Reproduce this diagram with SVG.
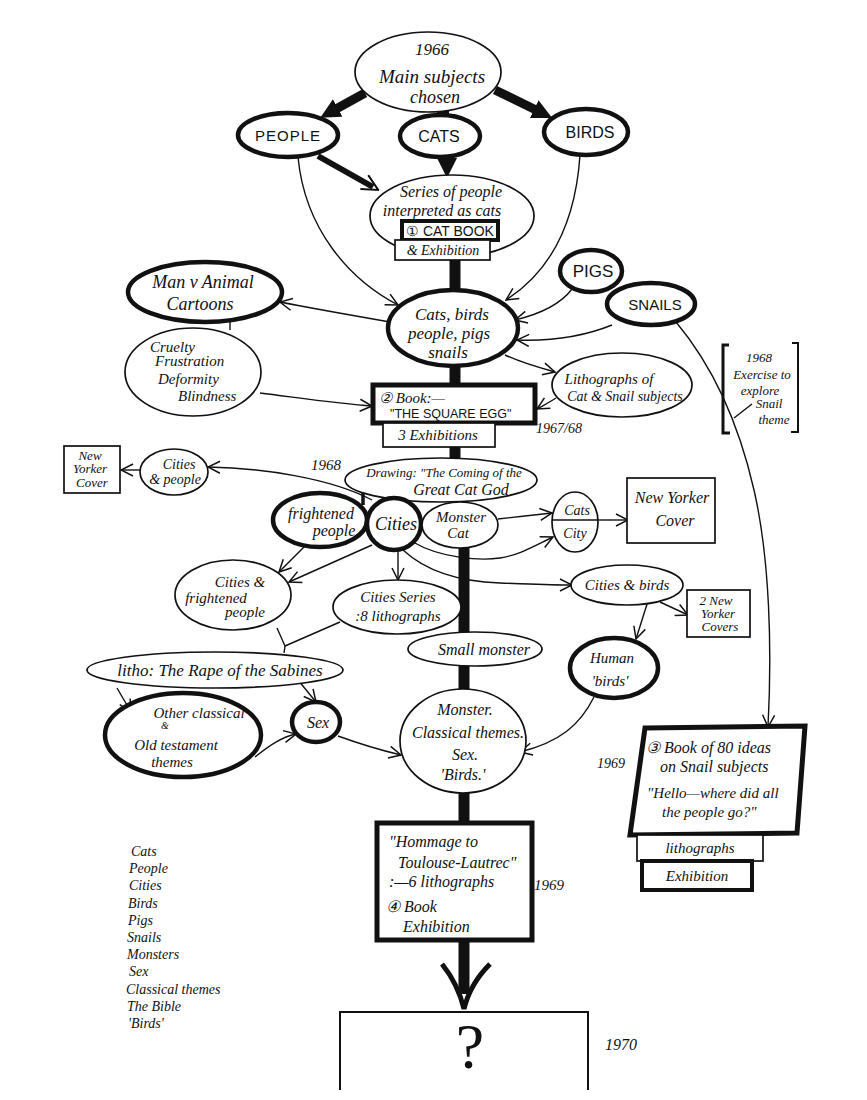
<svg xmlns="http://www.w3.org/2000/svg" width="867" height="1100" viewBox="0 0 867 1100">
<defs>
<style>
.t{font-family:"Liberation Serif",serif;font-style:italic;fill:#111;text-anchor:middle}
.s{font-family:"Liberation Sans",sans-serif;fill:#111;text-anchor:middle}
.l{text-anchor:start}
.n{fill:#fff;stroke:#111;stroke-width:1.7}
.k{fill:#fff;stroke:#111;stroke-width:4.5}
.c{fill:none;stroke:#111;stroke-width:1.4}
.b{fill:none;stroke:#111;stroke-width:11}
</style>
<marker id="a" viewBox="0 0 14 14" refX="13" refY="7" markerWidth="14" markerHeight="14" markerUnits="userSpaceOnUse" orient="auto"><path d="M1,1 L13,7 L1,13" fill="none" stroke="#111" stroke-width="1.5"/></marker>
<marker id="h" viewBox="0 0 20 20" refX="2" refY="10" markerWidth="20" markerHeight="20" markerUnits="userSpaceOnUse" orient="auto"><path d="M0,0 L20,10 L0,20 z" fill="#111"/></marker>
<marker id="v" viewBox="0 0 18 18" refX="11" refY="9" markerWidth="18" markerHeight="18" markerUnits="userSpaceOnUse" orient="auto"><path d="M1,1 L17,9 L1,17" fill="none" stroke="#111" stroke-width="2"/></marker>
</defs>
<rect width="867" height="1100" fill="#fff"/>

<g id="connectors">
  <line x1="365" y1="93" x2="336" y2="109" stroke="#111" stroke-width="9" marker-end="url(#h)"/>
  <line x1="495" y1="90" x2="536" y2="110" stroke="#111" stroke-width="9" marker-end="url(#h)"/>
  <line x1="443" y1="106" x2="443" y2="118" stroke="#111" stroke-width="12"/>
  <line x1="447" y1="155" x2="447" y2="160" stroke="#111" stroke-width="12" marker-end="url(#h)"/>
  <line x1="318" y1="156" x2="373" y2="187" stroke="#111" stroke-width="6" marker-end="url(#v)"/>
  <path class="c" d="M298,157 C305,230 350,280 398,305" marker-end="url(#a)"/>
  <path class="c" d="M580,155 C575,230 545,275 506,300" marker-end="url(#a)"/>
  <path class="c" d="M572,289 C560,305 540,314 515,320" marker-end="url(#a)"/>
  <path class="c" d="M612,325 C580,338 545,341 517,340" marker-end="url(#a)"/>
  <path class="c" d="M390,322 C350,315 310,308 280,302" marker-end="url(#a)"/>
  <line class="c" x1="230" y1="321" x2="230" y2="330" stroke-width="2"/>
  <path class="c" d="M260,393 C300,398 340,404 372,406" marker-end="url(#a)"/>
  <path class="c" d="M505,355 C520,362 540,368 555,372" marker-end="url(#a)"/>
  <path class="c" d="M556,398 C550,402 544,405 537,409" marker-end="url(#a)"/>
  <path class="c" d="M676,322 C712,365 738,420 754,490 C770,560 772,650 768,727" marker-end="url(#a)"/>
  <line class="c" x1="752" y1="404" x2="734" y2="418"/>
  <path class="c" d="M372,500 C330,478 262,468 208,467" marker-end="url(#a)"/>
  <line class="c" x1="140" y1="470" x2="121" y2="470" marker-end="url(#a)"/>
  <path class="c" d="M498,519 C515,517 535,515 552,513" marker-end="url(#a)"/>
  <path class="c" d="M413,542 C440,558 480,561 500,558 C520,555 536,545 553,537" marker-end="url(#a)"/>
  <path class="c" d="M403,550 C430,575 470,582 500,583 C530,584 552,585 572,585" marker-end="url(#a)"/>
  <line class="c" x1="598" y1="520" x2="628" y2="520" marker-end="url(#a)"/>
  <line class="c" x1="660" y1="602" x2="688" y2="615" marker-end="url(#a)"/>
  <line class="c" x1="648" y1="601" x2="636" y2="639" marker-end="url(#a)"/>
  <path class="c" d="M594,697 C580,725 560,742 520,752" marker-end="url(#a)"/>
  <line class="c" x1="305" y1="546" x2="279" y2="572" stroke-width="1.8" marker-end="url(#a)"/>
  <line class="c" x1="372" y1="545" x2="289" y2="582" stroke-width="1.8" marker-end="url(#a)"/>
  <line class="c" x1="398" y1="550" x2="398" y2="580" marker-end="url(#a)"/>
  <path class="c" d="M277,628 L285,646 L284,653"/>
  <line class="c" x1="340" y1="622" x2="285" y2="646"/>
  <line class="c" x1="117" y1="688" x2="131" y2="712" marker-end="url(#a)"/>
  <line class="c" x1="298" y1="680" x2="316" y2="702" marker-end="url(#a)"/>
  <path class="c" d="M255,757 C270,745 282,737 296,734" marker-end="url(#a)"/>
  <path class="c" d="M338,736 C360,744 380,750 401,755" marker-end="url(#a)"/>
  <path class="b" d="M455,258 V292"/>
  <path class="b" d="M455,364 V387"/>
  <path class="b" d="M455,445 V460"/>
  <path class="b" d="M464,546 V634"/>
  <path class="b" d="M464,664 V691"/>
  <path class="b" d="M464,791 V825"/>
  <path class="b" d="M464,938 V994"/>
  <path d="M442,964 Q458,984 464,1009 Q470,984 490,964" fill="none" stroke="#111" stroke-width="5"/>
  <line x1="363" y1="487" x2="363" y2="505" stroke="#111" stroke-width="3.5"/>
  <line x1="397" y1="494" x2="397" y2="505" stroke="#111" stroke-width="3.5"/>
  <line x1="455" y1="496" x2="455" y2="508" stroke="#111" stroke-width="3.5"/>
</g>

<g id="n-1966"><ellipse class="n" cx="428" cy="72" rx="73" ry="40"/>
  <text class="t" x="432" y="55" font-size="17">1966</text>
  <text class="t" x="432" y="83" font-size="19">Main subjects</text>
  <text class="t" x="435" y="103" font-size="18">chosen</text></g>
<g id="n-people"><ellipse class="k" cx="288" cy="135" rx="50" ry="22"/><text class="s" x="288" y="141" font-size="15" letter-spacing="1">PEOPLE</text></g>
<g id="n-cats"><ellipse class="k" cx="440" cy="136" rx="40" ry="21"/><text class="s" x="439" y="142" font-size="16">CATS</text></g>
<g id="n-birds"><ellipse class="k" cx="586" cy="132" rx="42" ry="23"/><text class="s" x="590" y="138" font-size="16">BIRDS</text></g>
<g id="n-series"><ellipse class="n" cx="452" cy="216" rx="82" ry="41"/>
  <text class="t" x="451" y="197" font-size="16">Series of people</text>
  <text class="t" x="442" y="216" font-size="16">interpreted as cats</text>
  <rect x="402" y="221" width="96" height="19" fill="#fff" stroke="#111" stroke-width="4"/>
  <text class="s" x="450" y="236" font-size="14">① CAT BOOK</text>
  <rect class="n" x="395" y="240" width="95" height="20"/>
  <text class="t" x="443" y="255" font-size="14">&amp; Exhibition</text></g>
<g id="n-pigs"><ellipse class="k" cx="591" cy="271" rx="31" ry="21"/><text class="s" x="593" y="277" font-size="17">PIGS</text></g>
<g id="n-snails"><ellipse class="k" cx="651" cy="304" rx="44" ry="21"/><text class="s" x="655" y="310" font-size="15">SNAILS</text></g>
<g id="n-manvanimal"><ellipse class="k" cx="205" cy="292" rx="77" ry="30"/>
  <text class="t" x="203" y="288" font-size="18">Man v Animal</text>
  <text class="t" x="200" y="310" font-size="18">Cartoons</text></g>
<g id="n-cruelty"><ellipse class="n" cx="193" cy="372" rx="68" ry="44"/>
  <text class="t l" x="150" y="352" font-size="15">Cruelty</text>
  <text class="t l" x="155" y="366" font-size="15">Frustration</text>
  <text class="t l" x="158" y="384" font-size="15">Deformity</text>
  <text class="t l" x="178" y="401" font-size="15">Blindness</text></g>
<g id="n-catsbirds"><ellipse class="k" cx="453" cy="328" rx="65" ry="38"/>
  <text class="t" x="452" y="320" font-size="17">Cats, birds</text>
  <text class="t" x="449" y="339" font-size="17">people, pigs</text>
  <text class="t" x="448" y="358" font-size="17">snails</text></g>
<g id="n-lithographs"><ellipse class="n" cx="622" cy="385" rx="70" ry="32"/>
  <text class="t" x="609" y="384" font-size="15">Lithographs of</text>
  <text class="t" x="625" y="401" font-size="14">Cat &amp; Snail subjects</text></g>
<g id="n-squareegg"><rect x="373" y="385" width="162" height="38" fill="#fff" stroke="#111" stroke-width="5"/>
  <text class="t l" x="379" y="403" font-size="15">② Book:—</text>
  <text class="s l" x="390" y="418" font-size="12.5">"THE SQUARE EGG"</text>
  <rect class="n" x="383" y="423" width="112" height="24"/>
  <text class="t" x="438" y="440" font-size="15">3 Exhibitions</text>
  <text class="t l" x="536" y="433" font-size="14">1967/68</text></g>
<g id="n-exercise">
  <path d="M729,345 H723 V433 H730" fill="none" stroke="#111" stroke-width="3"/>
  <path d="M792,343 H798 V432 H791" fill="none" stroke="#111" stroke-width="2"/>
  <text class="t" x="759" y="362" font-size="13">1968</text>
  <text class="t" x="762" y="379" font-size="13">Exercise to</text>
  <text class="t" x="760" y="395" font-size="13">explore</text>
  <text class="t" x="769" y="408" font-size="13">Snail</text>
  <text class="t" x="774" y="424" font-size="13">theme</text></g>
<g id="n-nycover1"><rect class="n" x="64" y="446" width="56" height="47"/>
  <text class="t" x="90" y="460" font-size="13">New</text>
  <text class="t" x="90" y="473" font-size="13">Yorker</text>
  <text class="t" x="92" y="487" font-size="13">Cover</text></g>
<g id="n-citiespeople"><ellipse class="n" cx="174" cy="472" rx="34" ry="23"/>
  <text class="t" x="179" y="469" font-size="14">Cities</text>
  <text class="t" x="175" y="484" font-size="14">&amp; people</text></g>
<g id="n-drawing"><ellipse class="n" cx="441" cy="480" rx="96" ry="22"/>
  <text class="t" x="444" y="477" font-size="13">Drawing: "The Coming of the</text>
  <text class="t" x="461" y="495" font-size="16">Great Cat God</text>
  <text class="t" x="326" y="470" font-size="15">1968</text></g>
<g id="n-frightened"><ellipse class="k" cx="320" cy="520" rx="47" ry="27"/>
  <text class="t" x="321" y="519" font-size="16">frightened</text>
  <text class="t" x="334" y="536" font-size="16">people</text></g>
<g id="n-cities"><ellipse class="k" cx="394" cy="524" rx="27" ry="26" stroke-width="6"/>
  <text class="t" x="396" y="530" font-size="18">Cities</text></g>
<g id="n-monstercat"><ellipse class="n" cx="460" cy="525" rx="38" ry="23" stroke-width="2"/>
  <text class="t" x="461" y="522" font-size="15">Monster</text>
  <text class="t" x="458" y="538" font-size="15">Cat</text></g>
<g id="n-catscity"><ellipse class="n" cx="575" cy="522" rx="23" ry="30"/>
  <line x1="552" y1="520" x2="598" y2="520" stroke="#111" stroke-width="1.4"/>
  <text class="t" x="577" y="515" font-size="14">Cats</text>
  <text class="t" x="575" y="538" font-size="14">City</text></g>
<g id="n-nycover2"><rect class="n" x="627" y="478" width="88" height="65" stroke-width="2"/>
  <text class="t" x="672" y="503" font-size="16">New Yorker</text>
  <text class="t" x="675" y="526" font-size="16">Cover</text></g>
<g id="n-citiesfrightened"><ellipse class="n" cx="233" cy="595" rx="58" ry="35"/>
  <text class="t" x="240" y="587" font-size="15">Cities &amp;</text>
  <text class="t" x="216" y="603" font-size="15">frightened</text>
  <text class="t" x="245" y="617" font-size="15">people</text></g>
<g id="n-citiesseries"><ellipse class="n" cx="397" cy="607" rx="64" ry="27"/>
  <text class="t" x="398" y="602" font-size="15">Cities Series</text>
  <text class="t" x="398" y="621" font-size="15">:8 lithographs</text></g>
<g id="n-citiesbirds"><ellipse class="n" cx="627" cy="585" rx="56" ry="20"/>
  <text class="t" x="627" y="590" font-size="15">Cities &amp; birds</text></g>
<g id="n-nycovers"><rect class="n" x="687" y="590" width="63" height="47"/>
  <text class="t" x="716" y="605" font-size="13">2 New</text>
  <text class="t" x="718" y="618" font-size="13">Yorker</text>
  <text class="t" x="720" y="631" font-size="13">Covers</text></g>
<g id="n-smallmonster"><ellipse class="n" cx="475" cy="649" rx="67" ry="17"/>
  <text class="t" x="484" y="655" font-size="16">Small monster</text></g>
<g id="n-human"><ellipse class="k" cx="614" cy="668" rx="44" ry="30"/>
  <text class="t" x="612" y="663" font-size="15">Human</text>
  <text class="t" x="610" y="686" font-size="15">'birds'</text></g>
<g id="n-rape"><ellipse class="n" cx="215" cy="670" rx="128" ry="18"/>
  <text class="t" x="220" y="676" font-size="17">litho: The Rape of the Sabines</text></g>
<g id="n-otherclassical"><ellipse class="k" cx="183" cy="735" rx="78" ry="42" stroke-width="5"/>
  <text class="t" x="199" y="718" font-size="15">Other classical</text>
  <text class="t" x="165" y="729" font-size="10">&amp;</text>
  <text class="t" x="176" y="750" font-size="15">Old testament</text>
  <text class="t" x="172" y="767" font-size="15">themes</text></g>
<g id="n-sex"><ellipse class="k" cx="316" cy="722" rx="24" ry="20"/>
  <text class="t" x="318" y="728" font-size="16">Sex</text></g>
<g id="n-monsterclassical"><ellipse class="n" cx="463" cy="741" rx="63" ry="52"/>
  <text class="t" x="465" y="715" font-size="16">Monster.</text>
  <text class="t" x="468" y="738" font-size="16">Classical themes.</text>
  <text class="t" x="465" y="760" font-size="16">Sex.</text>
  <text class="t" x="463" y="780" font-size="16">'Birds.'</text></g>
<g id="n-book3">
  <polygon points="645,728 805,726 797,833 630,835" fill="#fff" stroke="#111" stroke-width="5"/>
  <text class="t l" x="646" y="753" font-size="16">③ Book of 80 ideas</text>
  <text class="t l" x="660" y="772" font-size="16">on Snail subjects</text>
  <text class="t l" x="647" y="798" font-size="15">"Hello—where did all</text>
  <text class="t l" x="662" y="817" font-size="15">the people go?"</text>
  <text class="t" x="611" y="768" font-size="14">1969</text>
  <rect class="n" x="637" y="835" width="126" height="26"/>
  <text class="t" x="700" y="853" font-size="15">lithographs</text>
  <rect x="642" y="861" width="110" height="29" fill="#fff" stroke="#111" stroke-width="4"/>
  <text class="t" x="697" y="881" font-size="15">Exhibition</text></g>
<g id="n-hommage"><rect x="377" y="823" width="155" height="117" fill="#fff" stroke="#111" stroke-width="5"/>
  <text class="t l" x="389" y="847" font-size="16">"Hommage to</text>
  <text class="t l" x="398" y="868" font-size="16">Toulouse-Lautrec"</text>
  <text class="t l" x="389" y="887" font-size="16">:—6 lithographs</text>
  <text class="t l" x="386" y="912" font-size="16">④ Book</text>
  <text class="t l" x="403" y="932" font-size="16">Exhibition</text>
  <text class="t l" x="534" y="890" font-size="15">1969</text></g>
<g id="n-question"><path d="M340,1090 V1012 H588 V1090" fill="none" stroke="#111" stroke-width="2"/>
  <text x="470" y="1068" font-size="64" font-family="Liberation Serif, serif" text-anchor="middle" fill="#111">?</text>
  <text class="t l" x="605" y="1050" font-size="16">1970</text></g>
<g id="legend">
  <text class="t l" x="131" y="856" font-size="14">Cats</text>
  <text class="t l" x="129" y="873" font-size="14">People</text>
  <text class="t l" x="129" y="890" font-size="14">Cities</text>
  <text class="t l" x="128" y="908" font-size="14">Birds</text>
  <text class="t l" x="128" y="925" font-size="14">Pigs</text>
  <text class="t l" x="127" y="942" font-size="14">Snails</text>
  <text class="t l" x="127" y="959" font-size="14">Monsters</text>
  <text class="t l" x="129" y="976" font-size="14">Sex</text>
  <text class="t l" x="126" y="994" font-size="14">Classical themes</text>
  <text class="t l" x="127" y="1011" font-size="14">The Bible</text>
  <text class="t l" x="128" y="1028" font-size="14">'Birds'</text></g>
</svg>
